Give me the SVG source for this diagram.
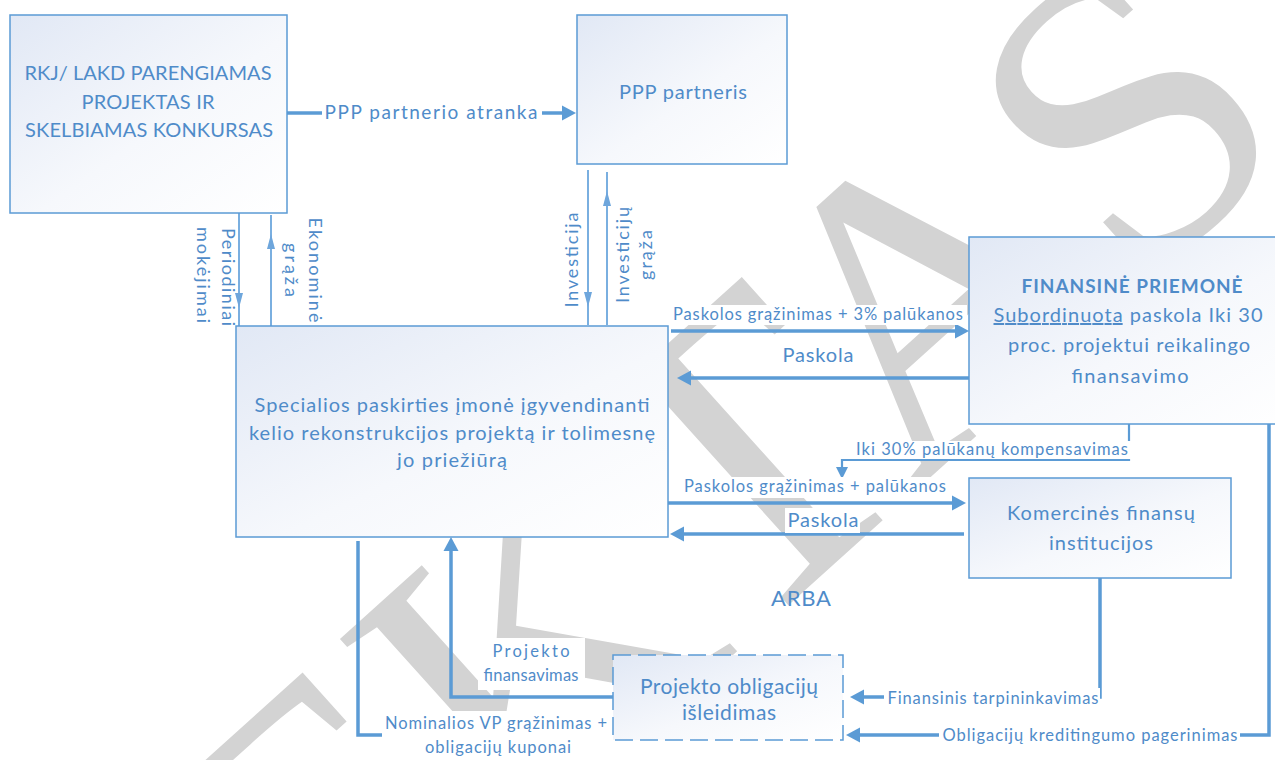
<svg xmlns="http://www.w3.org/2000/svg" width="1275" height="760" viewBox="0 0 1275 760">
  <defs>
    <linearGradient id="boxFill" x1="0" y1="0" x2="1" y2="1">
      <stop offset="0" stop-color="#e1e8f5"/>
      <stop offset="0.55" stop-color="#f6f8fc"/>
      <stop offset="1" stop-color="#ffffff"/>
    </linearGradient>
    <marker id="headBig" markerUnits="userSpaceOnUse" markerWidth="16" markerHeight="16" viewBox="0 0 14 16" refX="1" refY="8" orient="auto">
      <path d="M0,0.5 L14,8 L0,15.5 Z" fill="#5b9bd5"/>
    </marker>
    <marker id="headThin" markerUnits="userSpaceOnUse" markerWidth="14" markerHeight="14" viewBox="0 0 12 14" refX="1" refY="7" orient="auto">
      <path d="M0,1 L12,7 L0,13 Z" fill="#5b9bd5"/>
    </marker>
    <marker id="headSlim" markerUnits="userSpaceOnUse" markerWidth="16" markerHeight="10" viewBox="0 0 15 10" refX="1" refY="5" orient="auto">
      <path d="M0,1 L15,5 L0,9 Z" fill="#6ea6dc"/>
    </marker>
  </defs>
  <style>
    .box { fill: url(#boxFill); stroke: #5b9bd5; stroke-width: 1.5; }
    .dash { fill: url(#boxFill); stroke: #5b9bd5; stroke-width: 1.5; stroke-dasharray: 18 7; }
    .t { font-family: Lato, "Liberation Sans", sans-serif; fill: #4f8bc9; }
    .c { text-anchor: middle; }
    .b { font-weight: bold; }
    .wire { fill: none; stroke: #5b9bd5; stroke-width: 3.5; }
    .wire2 { fill: none; stroke: #5b9bd5; stroke-width: 2.2; }
    .slim { fill: none; stroke: #7aafe0; stroke-width: 2; }
    .bg { fill: #ffffff; }
    .wm { font-family: "Liberation Serif", serif; fill: #d3d3d3; }
  </style>

  <!-- background watermark -->
  <g id="watermark">
    <text class="wm" font-size="420" text-anchor="end" transform="translate(1305,140) rotate(-42)">PROJEKTAS</text>
  </g>

  <!-- connectors -->
  <g id="connectors">
    <!-- tender -> partner -->
    <path class="wire" d="M287,113 H563" marker-end="url(#headBig)"/>
    <!-- payments between authority and SPV -->
    <path class="slim" d="M239,213 V326"/>
    <path class="slim" d="M239,213 V294" marker-end="url(#headSlim)"/>
    <path class="slim" d="M271,326 V215"/>
    <path class="slim" d="M271,326 V248" marker-end="url(#headSlim)"/>
    <!-- investment flows -->
    <path class="slim" d="M588,170 V325"/>
    <path class="slim" d="M588,170 V293" marker-end="url(#headSlim)"/>
    <path class="slim" d="M607,325 V172"/>
    <path class="slim" d="M607,325 V205" marker-end="url(#headSlim)"/>
    <!-- subordinated loan -->
    <path class="wire" d="M671,331 H956" marker-end="url(#headBig)"/>
    <path class="wire" d="M970,378 H690" marker-end="url(#headBig)"/>
    <!-- interest compensation -->
    <path class="wire2" d="M1129,424 V460 H842 V468" marker-end="url(#headThin)"/>
    <!-- commercial loan -->
    <path class="wire" d="M668,503 H953" marker-end="url(#headBig)"/>
    <path class="wire" d="M964,534 H683" marker-end="url(#headBig)"/>
    <!-- bond financing -->
    <path class="wire" d="M613,697 H451 V550" marker-end="url(#headBig)"/>
    <path class="wire" d="M358,541 V735 H400"/>
    <path class="wire" d="M1100,578 V697 H863" marker-end="url(#headBig)"/>
    <path class="wire" d="M1269,424 V735 H859" marker-end="url(#headBig)"/>

    <!-- connector labels -->
    <rect class="bg" x="322" y="101" width="220" height="24"/>
    <text class="t c" x="431" y="119" font-size="19" textLength="213">PPP partnerio atranka</text>

    <g transform="translate(222,277) rotate(90)">
      <text class="t c" x="0" y="0" font-size="18" textLength="98">Periodiniai</text>
      <text class="t c" x="-2" y="25" font-size="18" textLength="96">mokėjimai</text>
    </g>
    <g transform="translate(309,270) rotate(90)">
      <text class="t c" x="0" y="0" font-size="18" textLength="105">Ekonominė</text>
      <text class="t c" x="0" y="24" font-size="18" textLength="54">grąža</text>
    </g>
    <g transform="translate(578,260) rotate(-90)">
      <text class="t c" x="0" y="0" font-size="18" textLength="95">Investicija</text>
    </g>
    <g transform="translate(629,255) rotate(-90)">
      <text class="t c" x="0" y="0" font-size="18" textLength="96">Investicijų</text>
      <text class="t c" x="0" y="23" font-size="18" textLength="50">grąža</text>
    </g>

    <rect class="bg" x="670" y="305" width="297" height="20"/>
    <text class="t c" x="818" y="320" font-size="16.5" textLength="290">Paskolos grąžinimas + 3% palūkanos</text>
    <rect class="bg" x="779" y="343" width="78" height="25"/>
    <text class="t c" x="818" y="362" font-size="20" textLength="71">Paskola</text>

    <rect class="bg" x="853" y="441" width="278" height="18"/>
    <text class="t c" x="992" y="455" font-size="16.5" textLength="272">Iki 30% palūkanų kompensavimas</text>

    <rect class="bg" x="681" y="477" width="268" height="21"/>
    <text class="t c" x="815" y="492" font-size="16.5" textLength="262">Paskolos grąžinimas + palūkanos</text>
    <rect class="bg" x="785" y="508" width="75" height="25"/>
    <text class="t c" x="823" y="527" font-size="20" textLength="71">Paskola</text>

    <rect class="bg" x="478" y="638" width="107" height="52"/>
    <text class="t c" x="531" y="657" font-size="16.5" textLength="77">Projekto</text>
    <text class="t c" x="531" y="681" font-size="16.5" textLength="95">finansavimas</text>

    <rect class="bg" x="382" y="711" width="229" height="49"/>
    <text class="t c" x="496" y="729" font-size="16.5" textLength="222">Nominalios VP grąžinimas +</text>
    <text class="t c" x="498" y="753" font-size="16.5" textLength="146">obligacijų kuponai</text>

    <rect class="bg" x="884" y="688" width="216" height="20"/>
    <text class="t c" x="993" y="704" font-size="16.5" textLength="211">Finansinis tarpininkavimas</text>

    <rect class="bg" x="939" y="725" width="301" height="21"/>
    <text class="t c" x="1090" y="741" font-size="16.5" textLength="295">Obligacijų kreditingumo pagerinimas</text>

    <text class="t c" x="801" y="606" font-size="22" textLength="60">ARBA</text>
  </g>

  <!-- nodes -->
  <g id="node-tender">
    <rect class="box" x="10" y="15" width="277" height="198"/>
    <text class="t c" x="148" y="80" font-size="20" textLength="247">RKJ/ LAKD PARENGIAMAS</text>
    <text class="t c" x="148" y="109" font-size="20" textLength="133">PROJEKTAS IR</text>
    <text class="t c" x="149" y="137" font-size="20" textLength="248">SKELBIAMAS KONKURSAS</text>
  </g>

  <g id="node-partner">
    <rect class="box" x="577" y="15" width="210" height="149"/>
    <text class="t c" x="683" y="99" font-size="20" textLength="128">PPP partneris</text>
  </g>

  <g id="node-spv">
    <rect class="box" x="236" y="326" width="432" height="211"/>
    <text class="t c" x="452" y="412" font-size="20" textLength="395">Specialios paskirties įmonė įgyvendinanti</text>
    <text class="t c" x="452" y="440" font-size="20" textLength="406">kelio rekonstrukcijos projektą ir tolimesnę</text>
    <text class="t c" x="452" y="467" font-size="20" textLength="110">jo priežiūrą</text>
  </g>

  <g id="node-fund">
    <rect class="box" x="969" y="237" width="330" height="187"/>
    <text class="t c b" x="1132" y="293" font-size="19" textLength="221">FINANSINĖ PRIEMONĖ</text>
    <text class="t c" x="1128" y="322" font-size="20" textLength="269"><tspan text-decoration="underline">Subordinuota</tspan> paskola Iki 30</text>
    <text class="t c" x="1129" y="352" font-size="20" textLength="242">proc. projektui reikalingo</text>
    <text class="t c" x="1130" y="383" font-size="20" textLength="117">finansavimo</text>
  </g>

  <g id="node-banks">
    <rect class="box" x="969" y="478" width="262" height="100"/>
    <text class="t c" x="1101" y="520" font-size="20" textLength="188">Komercinės finansų</text>
    <text class="t c" x="1101" y="550" font-size="20" textLength="104">institucijos</text>
  </g>

  <g id="node-bonds">
    <rect class="dash" x="613" y="655" width="230" height="85"/>
    <text class="t c" x="729" y="694" font-size="21" textLength="178">Projekto obligacijų</text>
    <text class="t c" x="729" y="720" font-size="21" textLength="94">išleidimas</text>
  </g>
</svg>
